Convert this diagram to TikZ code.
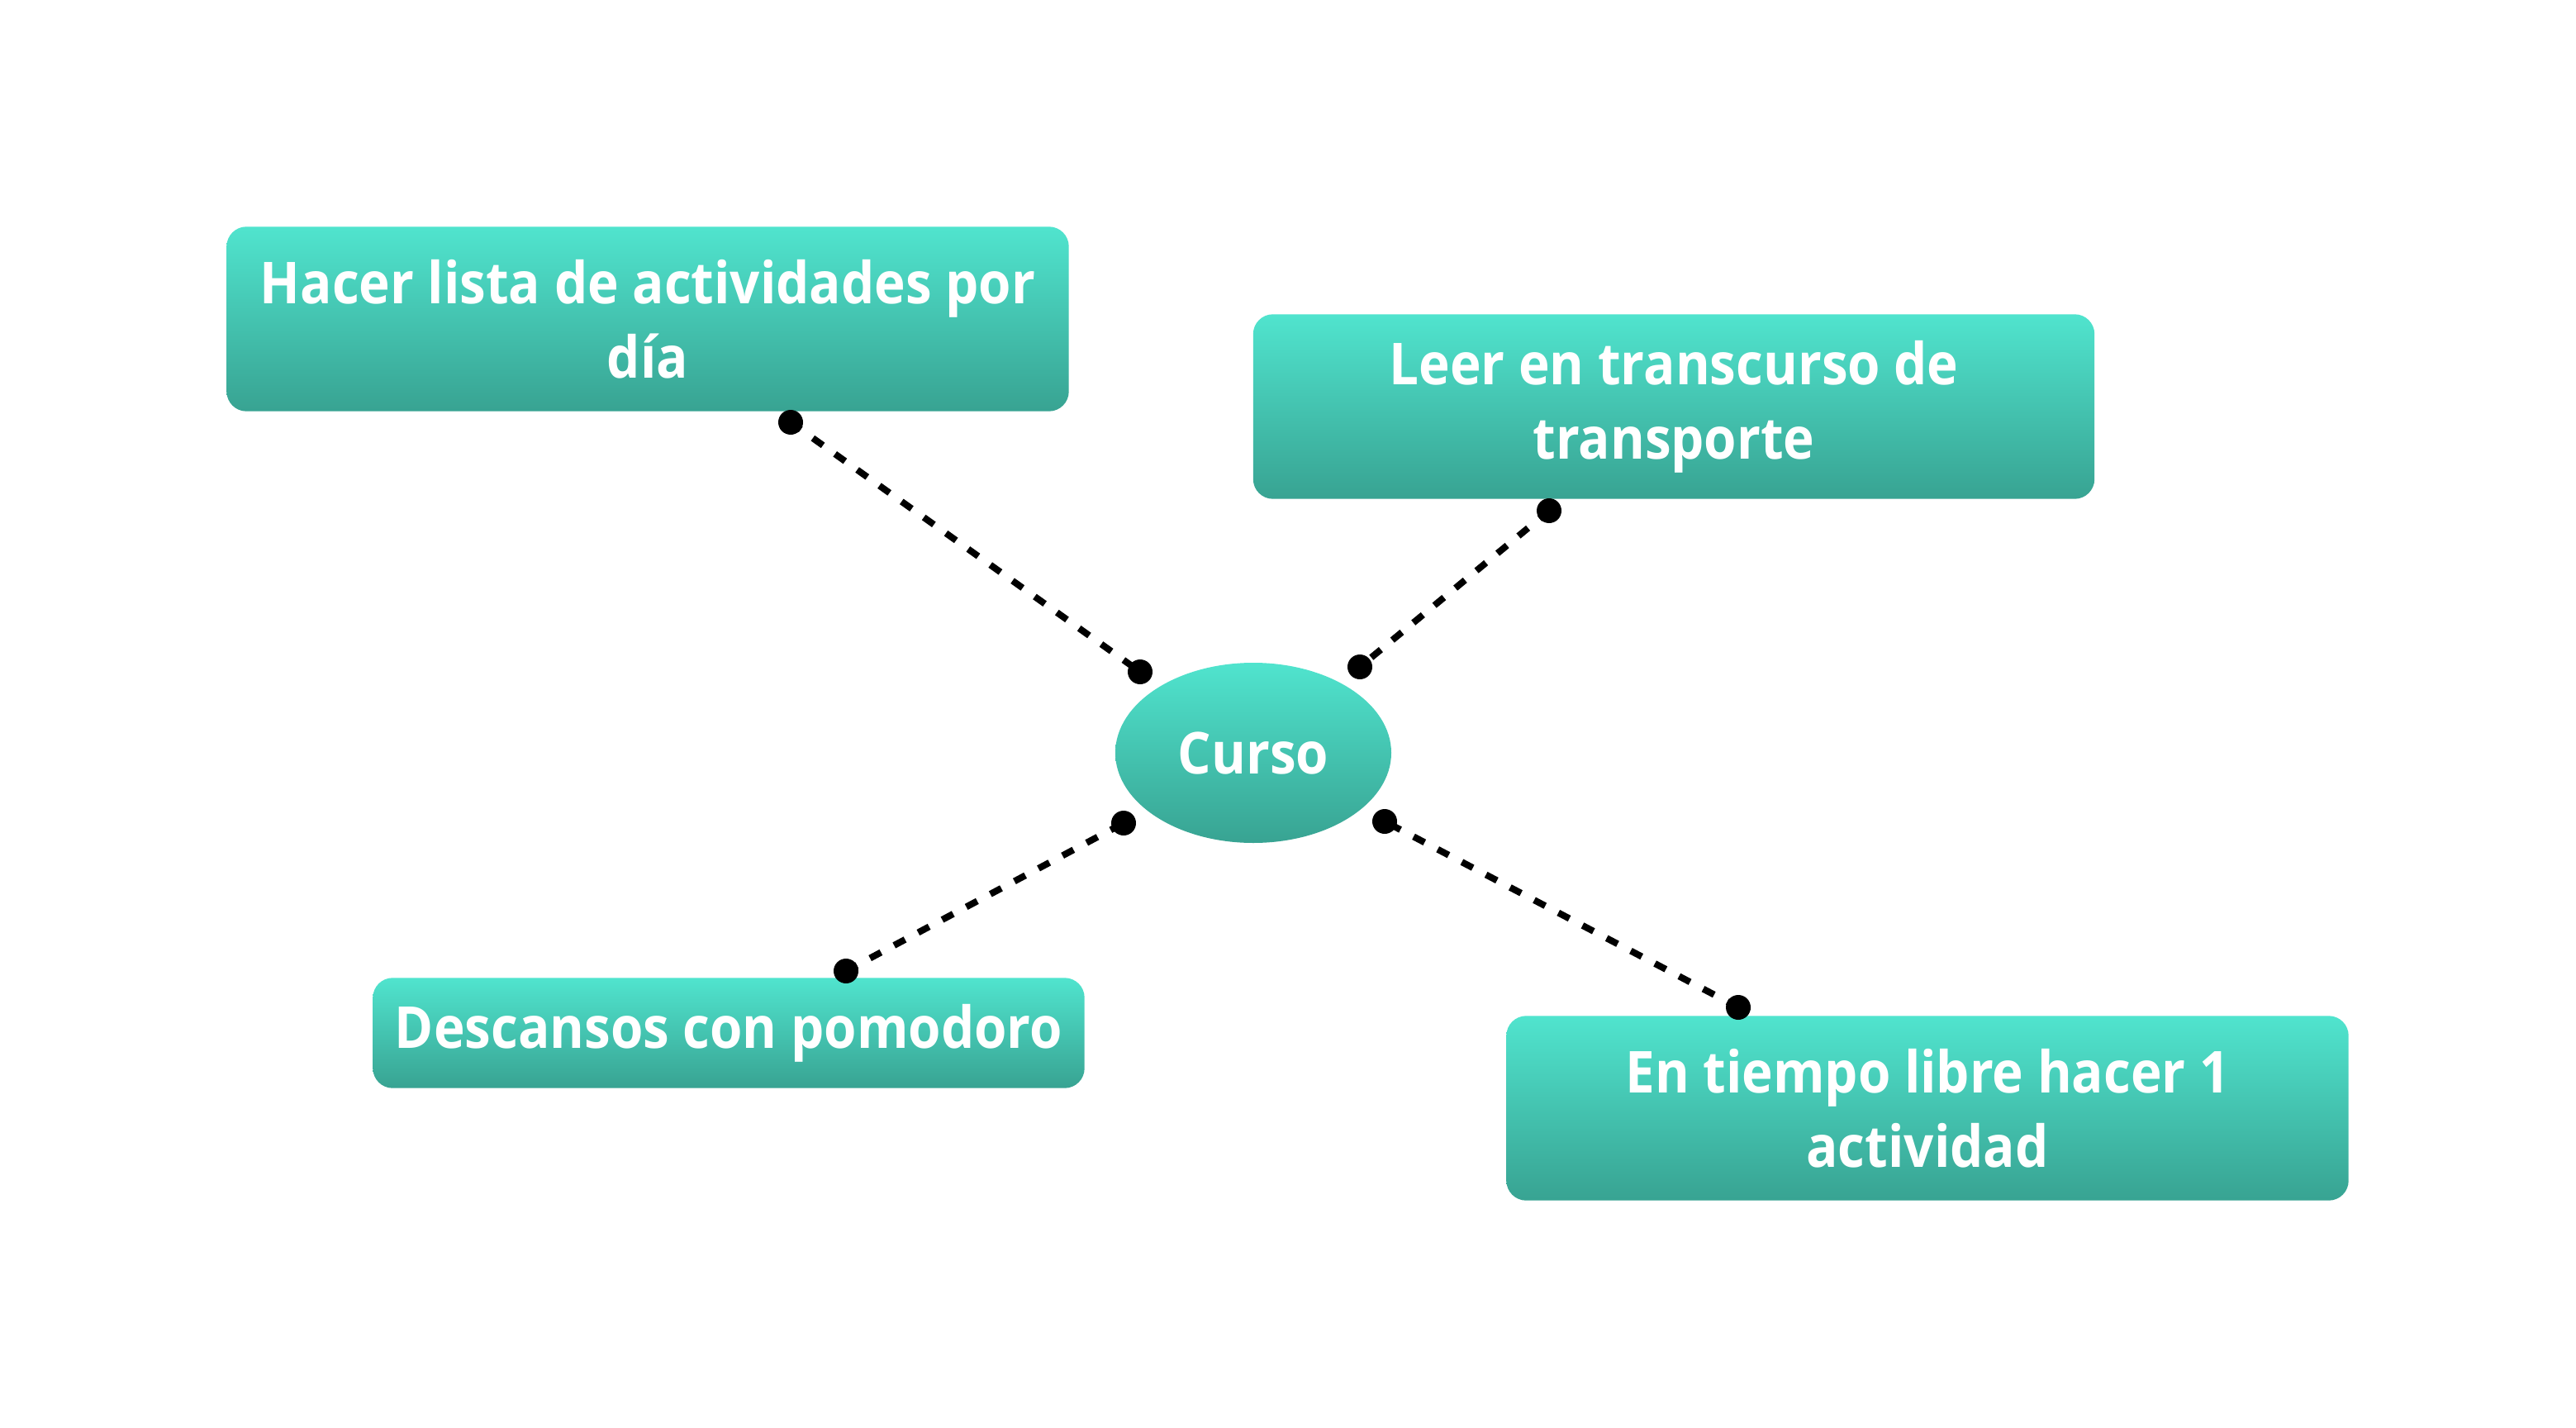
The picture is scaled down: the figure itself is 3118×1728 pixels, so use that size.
\documentclass[tikz,border=0pt]{standalone}
\usepackage{fontspec}
\setmainfont{Open Sans}[FakeStretch=0.91]
\usetikzlibrary{backgrounds,shapes.geometric}
\definecolor{tealtop}{RGB}{80,228,206}
\definecolor{tealbot}{RGB}{56,163,146}
\begin{document}
\begin{tikzpicture}[x=1pt,y=-1pt,
  lbl/.style={font=\fontsize{70}{90}\selectfont\bfseries, text=white, align=center, inner sep=0pt, minimum height=223pt},
  tealfill/.style={top color=tealtop, bottom color=tealbot, draw=none},
  link/.style={line width=8pt, dash pattern=on 15pt off 18pt, black},
  dot/.style={circle, fill=black, inner sep=0pt, minimum size=30pt}]
\useasboundingbox (0,0) rectangle (3118,1728);
% nodes
\node[lbl, minimum width=1019pt] (b1) at (784,386) {Hacer lista de actividades por\\día};
\node[lbl, minimum width=1018pt] (b2) at (2026,492) {Leer en transcurso de\\transporte};
\node[lbl, minimum width=861pt, minimum height=133pt] (b3) at (882,1250) {Descansos con pomodoro};
\node[lbl, minimum width=1019pt] (b4) at (2333,1341) {En tiempo libre hacer 1\\actividad};
\node[lbl, ellipse, tealfill, minimum width=334pt, minimum height=218pt] (c) at (1517,911) {Curso};
\begin{scope}[on background layer]
\fill[white] (0,0) rectangle (3118,1728);
\foreach \n in {b1,b2,b3,b4}{
  \path[tealfill] (\n.north) [rounded corners=24pt] -- (\n.north east) -- (\n.south east) -- (\n.south west) -- (\n.north west) [sharp corners] -- cycle;
}
\end{scope}
% connector end points
\coordinate (d1a) at (957,511);
\coordinate (d1b) at (1380,813);
\coordinate (d2a) at (1875,618);
\coordinate (d2b) at (1646,807);
\coordinate (d3a) at (1024,1175);
\coordinate (d3b) at (1360,996);
\coordinate (d4a) at (2104,1219);
\coordinate (d4b) at (1676,994);
\draw[link] (d1a) -- (d1b);
\draw[link] (d2a) -- (d2b);
\draw[link] (d3a) -- (d3b);
\draw[link] (d4a) -- (d4b);
\foreach \p in {d1a,d1b,d2a,d2b,d3a,d3b,d4a,d4b}{
  \node[dot] at (\p) {};
}
\end{tikzpicture}
\end{document}
